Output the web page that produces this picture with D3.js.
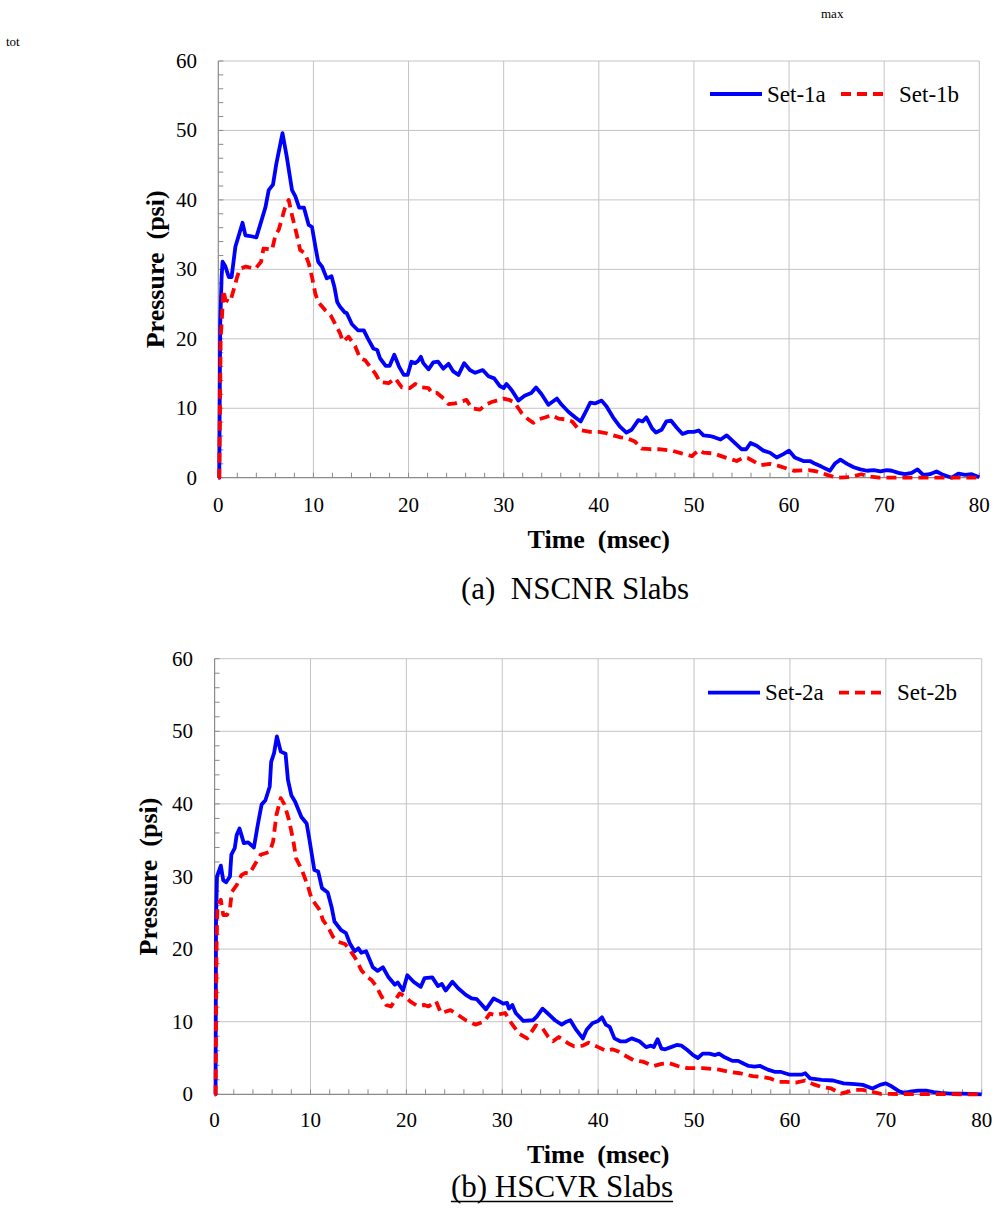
<!DOCTYPE html>
<html>
<head>
<meta charset="utf-8">
<script src="https://cdn.jsdelivr.net/npm/d3@7"></script>
<style>
  body { margin: 0; background: #fff; }
  svg { display: block; }
  text { font-family: "Liberation Serif", "Times New Roman", serif; fill: #000; white-space: pre; }
</style>
</head>
<body>
<svg id="fig" width="995" height="1208"></svg>
<script>
// Axis tick values (msec, psi)
const timeTicks = [0, 10, 20, 30, 40, 50, 60, 70, 80];
const pressureTicks = [0, 10, 20, 30, 40, 50, 60];
const timeMinor = d3.range(0, 81, 2);
const pressureMinor = d3.range(0, 61, 2);

// Reflected pressure histories, [time (msec), pressure (psi)]
const set1a = [[0,0],[0.1,0],[0.2,22],[0.35,29],[0.45,31.1],[0.75,30.4],[1.1,28.9],[1.4,28.9],[1.8,33.3],[2.0,34.2],[2.55,36.7],[2.85,34.9],[3.35,34.8],[4.0,34.6],[4.4,36.4],[4.95,38.9],[5.3,41.4],[5.75,42.2],[6.1,45.2],[6.75,49.6],[7.2,46.2],[7.75,41.4],[8.1,40.5],[8.5,38.9],[9.0,38.9],[9.5,36.4],[9.85,36.1],[10.2,33.3],[10.5,31.1],[10.9,30.4],[11.4,28.7],[11.9,29.0],[12.2,27.5],[12.5,25.3],[12.8,24.6],[13.3,23.8],[13.5,23.7],[14.05,22.1],[14.7,21.2],[15.3,21.2],[15.7,20.1],[16.3,18.6],[16.7,18.4],[17.0,17.2],[17.6,16.1],[18.0,16.1],[18.5,17.7],[19.0,16.0],[19.5,14.8],[19.9,14.8],[20.3,16.7],[20.7,16.5],[21.0,16.8],[21.3,17.4],[21.55,16.5],[22.1,15.6],[22.6,16.6],[23.1,16.7],[23.65,15.7],[24.2,16.4],[24.7,15.3],[25.25,14.8],[25.85,16.5],[26.45,15.5],[27.0,15.1],[27.8,15.5],[28.4,14.6],[29.0,14.3],[29.6,13.2],[30.0,12.9],[30.3,13.5],[30.85,12.6],[31.55,11.1],[32.2,11.8],[32.9,12.2],[33.4,13.0],[33.95,12.1],[34.7,10.5],[35.6,11.4],[36.1,10.5],[36.8,9.5],[37.5,8.7],[38.1,8.1],[38.7,9.7],[39.1,10.8],[39.6,10.7],[40.3,11.1],[40.8,10.3],[41.5,8.7],[42.2,7.4],[42.9,6.5],[43.45,6.9],[44.15,8.3],[44.6,8.1],[45.0,8.7],[45.6,7.1],[46.0,6.5],[46.6,6.9],[47.1,8.1],[47.6,8.2],[48.2,7.2],[48.8,6.3],[49.4,6.6],[50.0,6.6],[50.5,6.8],[51.0,6.1],[51.7,6.0],[52.2,5.8],[52.8,5.5],[53.45,6.1],[54.15,5.2],[55.0,4.1],[55.5,4.1],[55.95,5.0],[56.6,4.6],[57.3,3.9],[58.0,3.6],[58.7,2.9],[59.4,3.4],[60.0,3.9],[60.6,2.9],[61.5,2.4],[62.2,2.4],[62.75,2.0],[63.4,1.6],[64.3,1.0],[64.8,2.0],[65.4,2.6],[66.1,2.0],[66.8,1.5],[67.5,1.2],[68.2,1.0],[68.9,1.1],[69.6,0.9],[70.3,1.1],[70.8,1.0],[71.5,0.7],[72.2,0.5],[72.9,0.7],[73.5,1.2],[74.1,0.4],[74.8,0.5],[75.5,0.9],[76.2,0.4],[77.1,0.0],[77.8,0.6],[78.5,0.4],[79.2,0.5],[80,0.05]];

const set1b = [[0,0],[0.1,0],[0.25,20],[0.55,27.0],[0.75,25.6],[1.25,25.3],[1.6,27.0],[2.0,29.0],[2.3,30.1],[2.9,30.4],[3.9,30.1],[4.5,31.1],[4.75,33.0],[5.3,32.9],[5.65,32.8],[6.0,34.9],[6.35,35.7],[7.0,38.8],[7.4,40.0],[7.75,37.8],[8.3,34.7],[8.6,32.8],[9.1,32.3],[9.5,30.9],[9.85,28.9],[10.2,26.5],[10.5,25.3],[11.25,24.1],[11.8,23.4],[12.8,20.8],[13.1,19.6],[13.7,20.3],[14.4,18.9],[14.9,17.2],[15.45,16.9],[16.5,15.0],[17.0,13.8],[17.9,13.6],[18.6,14.3],[19.3,13.0],[20.15,12.9],[20.7,13.5],[21.4,13.0],[22.1,12.9],[22.45,12.2],[23.0,12.2],[23.85,11.2],[24.2,10.6],[24.9,10.7],[25.6,11.0],[26.1,11.2],[26.65,10.0],[27.5,9.8],[28.2,10.6],[28.75,10.9],[29.25,11.1],[29.95,11.4],[30.6,11.2],[31.15,10.8],[31.9,9.3],[32.5,8.5],[33.1,7.9],[33.65,8.4],[34.4,8.7],[35.05,9.0],[35.75,8.5],[36.5,8.4],[37.2,8.1],[37.9,6.9],[39.1,6.6],[40.0,6.6],[40.8,6.4],[41.5,6.1],[42.3,5.8],[42.95,5.7],[43.8,5.2],[44.5,4.2],[45.4,4.1],[46.3,4.1],[47.7,3.9],[48.7,3.5],[49.8,3.1],[50.1,3.5],[50.6,4.0],[51.0,3.6],[52.05,3.5],[53.1,3.0],[54.5,2.4],[55.2,2.9],[55.7,2.8],[57.0,1.8],[58.0,2.0],[58.9,1.7],[59.8,1.3],[60.5,1.0],[62.05,1.1],[62.9,0.9],[64.0,0.4],[65.0,0.0],[66.5,0.1],[67.6,0.5],[68.4,0.2],[69.5,0.0],[80,0]];

const set2a = [[0,0],[0.1,0],[0.15,24],[0.25,30.0],[0.65,31.5],[0.9,29.5],[1.2,29.2],[1.6,30.0],[1.75,33.0],[2.1,33.9],[2.3,35.7],[2.6,36.6],[3.05,34.6],[3.5,34.7],[4.1,34.0],[4.5,37.1],[4.9,39.9],[5.3,40.5],[5.75,42.4],[5.9,45.8],[6.2,47.0],[6.5,49.3],[6.9,47.2],[7.4,46.9],[7.65,43.3],[8.0,41.2],[8.4,40.3],[9.05,38.2],[9.6,37.3],[9.9,35.0],[10.4,30.9],[10.8,30.7],[11.2,28.4],[11.8,27.8],[12.2,25.8],[12.5,23.8],[13.2,22.6],[13.7,22.2],[14.1,20.8],[14.6,19.7],[15.0,20.1],[15.3,19.5],[15.8,19.7],[16.5,17.5],[17.0,17.0],[17.55,17.5],[18.1,16.2],[18.8,15.1],[19.1,15.4],[19.65,14.3],[20.1,16.4],[20.75,15.5],[21.5,14.8],[21.9,16.0],[22.7,16.1],[23.3,14.9],[23.7,15.2],[24.1,14.3],[24.8,15.5],[25.4,14.6],[26.2,13.7],[26.8,13.2],[27.35,13.1],[28.3,11.7],[29.1,13.2],[29.7,12.8],[30.1,12.5],[30.5,12.6],[30.7,11.8],[31.05,12.3],[31.4,11.2],[32.2,10.1],[33.2,10.2],[33.6,10.7],[34.2,11.8],[34.7,11.2],[35.5,10.2],[36.2,9.6],[36.7,10.0],[37.1,10.2],[37.7,8.9],[38.4,7.7],[38.8,8.9],[39.4,9.8],[40.0,10.1],[40.4,10.6],[40.8,9.6],[41.2,9.3],[41.7,7.7],[42.3,7.3],[42.9,7.3],[43.5,7.7],[44.3,7.3],[45.0,6.5],[45.5,6.7],[45.8,6.5],[46.2,7.6],[46.6,6.3],[47.0,6.2],[47.6,6.5],[48.2,6.8],[48.7,6.7],[49.3,6.1],[49.9,5.4],[50.4,5.0],[50.9,5.6],[51.6,5.6],[52.2,5.4],[52.6,5.6],[53.2,5.1],[54.0,4.6],[54.6,4.6],[55.2,4.2],[55.7,3.9],[56.3,3.8],[56.9,3.9],[57.7,3.4],[58.4,3.1],[59.0,3.1],[60.0,2.7],[60.6,2.7],[61.2,2.7],[61.6,2.9],[62.1,2.2],[63.3,2.0],[64.5,1.9],[65.6,1.5],[66.8,1.4],[67.6,1.3],[68.6,0.8],[69.4,1.3],[70.0,1.5],[70.6,1.1],[71.4,0.4],[71.9,0.2],[72.7,0.4],[73.4,0.5],[74.2,0.5],[75.0,0.3],[75.7,0.2],[76.7,0.1],[77.7,0.1],[78.9,0.05],[80,0]];

const set2b = [[0,0],[0.1,0],[0.2,20],[0.3,26.1],[0.65,26.8],[0.9,24.7],[1.3,24.7],[1.6,25.6],[1.8,27.9],[2.3,28.8],[2.8,30.2],[3.2,30.5],[3.65,30.4],[4.35,32.0],[4.8,33.0],[5.75,33.4],[6.1,34.8],[6.45,38.5],[6.9,40.8],[7.3,39.9],[7.75,37.8],[8.2,35.0],[8.5,32.5],[9.1,30.9],[9.75,28.6],[10.1,27.0],[10.35,26.5],[10.95,25.4],[11.3,24.0],[11.8,23.1],[12.35,21.7],[12.9,21.0],[13.6,20.7],[14.1,19.9],[14.8,18.5],[15.3,17.1],[15.9,16.2],[16.4,15.7],[16.9,14.8],[17.4,13.5],[17.9,12.3],[18.4,12.1],[19.3,13.9],[19.8,13.5],[20.4,12.8],[21.1,12.2],[21.9,12.3],[22.3,12.1],[23.1,12.8],[23.6,11.2],[24.6,11.6],[25.3,11.0],[26.2,10.2],[27.2,9.6],[28.1,10.0],[28.7,11.1],[29.3,10.9],[30.3,11.2],[31.0,9.7],[31.8,8.3],[32.6,7.7],[33.5,9.5],[34.2,9.1],[34.8,7.9],[35.3,7.3],[35.9,7.9],[36.9,7.0],[37.5,6.6],[38.4,6.7],[39.0,7.1],[40.0,6.5],[40.8,6.0],[41.5,6.2],[42.1,5.9],[42.7,5.4],[43.7,4.7],[44.65,4.5],[45.8,3.9],[46.6,4.2],[47.4,4.3],[48.3,3.9],[49.3,3.6],[50.9,3.6],[52.6,3.4],[53.6,3.1],[54.8,2.9],[56.1,2.5],[57.0,2.4],[57.9,2.2],[58.8,1.7],[59.6,1.7],[60.6,1.6],[61.6,1.9],[62.4,1.4],[63.3,1.0],[64.3,0.8],[65.3,0.1],[66.2,0.4],[66.8,0.6],[67.6,0.6],[68.4,0.4],[69.5,0.05],[80,0]];

const seriesNamesA = ["Set-1a", "Set-1b"];
const seriesNamesB = ["Set-2a", "Set-2b"];
const captions = ["(a)  NSCNR Slabs", "(b) HSCVR Slabs"];

const svg = d3.select("#fig");

// stray labels at the top of the page
svg.append("text").attr("x", 821).attr("y", 18).attr("font-size", 13).text("max");
svg.append("text").attr("x", 6).attr("y", 46).attr("font-size", 13).text("tot");

const panels = [
  { left: 218.3, right: 979.3, top: 61, bottom: 477.7,
    series: [set1a, set1b], names: seriesNamesA,
    yLabelRight: 197, xLabelBase: 512, xTitleBase: 548, yTitleX: 155,
    legendY: 94, legendX: 710,
    caption: captions[0], captionX: 575, captionBase: 599, underline: false },
  { left: 214.6, right: 981.7, top: 658.7, bottom: 1094.3,
    series: [set2a, set2b], names: seriesNamesB,
    yLabelRight: 193, xLabelBase: 1127, xTitleBase: 1163, yTitleX: 148,
    legendY: 692.7, legendX: 708,
    caption: captions[1], captionX: 562, captionBase: 1197, underline: true }
];

const gridColor = "#c4c4c4";
const axisColor = "#8a8a8a";
const styles = [
  { color: "#0000ff", dash: null },
  { color: "#ff0000", dash: "10,6" }
];

panels.forEach(p => {
  const x = d3.scaleLinear().domain([0, 80]).range([p.left, p.right]);
  const y = d3.scaleLinear().domain([0, 60]).range([p.bottom, p.top]);
  const g = svg.append("g");

  // gridlines
  g.selectAll(".vg").data(timeTicks.filter(d => d > 0)).join("line")
    .attr("x1", d => x(d)).attr("x2", d => x(d))
    .attr("y1", p.top).attr("y2", p.bottom)
    .attr("stroke", gridColor).attr("stroke-width", 1);
  g.selectAll(".hg").data(pressureTicks.filter(d => d > 0)).join("line")
    .attr("x1", p.left).attr("x2", p.right)
    .attr("y1", d => y(d)).attr("y2", d => y(d))
    .attr("stroke", gridColor).attr("stroke-width", 1);

  // minor ticks pointing into the plot
  g.selectAll(".xm").data(timeMinor).join("line")
    .attr("x1", d => x(d)).attr("x2", d => x(d))
    .attr("y1", p.bottom).attr("y2", p.bottom - 5)
    .attr("stroke", axisColor).attr("stroke-width", 1);
  g.selectAll(".ym").data(pressureMinor).join("line")
    .attr("x1", p.left).attr("x2", p.left + 5)
    .attr("y1", d => y(d)).attr("y2", d => y(d))
    .attr("stroke", axisColor).attr("stroke-width", 1);

  // axis lines
  g.append("line").attr("x1", p.left).attr("x2", p.right)
    .attr("y1", p.bottom).attr("y2", p.bottom)
    .attr("stroke", axisColor).attr("stroke-width", 1.2);
  g.append("line").attr("x1", p.left).attr("x2", p.left)
    .attr("y1", p.top).attr("y2", p.bottom)
    .attr("stroke", axisColor).attr("stroke-width", 1.2);

  // tick labels
  g.selectAll(".xl").data(timeTicks).join("text")
    .attr("x", d => x(d)).attr("y", p.xLabelBase)
    .attr("text-anchor", "middle").attr("font-size", 21)
    .text(d => d);
  g.selectAll(".yl").data(pressureTicks).join("text")
    .attr("x", p.yLabelRight).attr("y", d => y(d) + 7)
    .attr("text-anchor", "end").attr("font-size", 21)
    .text(d => d);

  // axis titles
  g.append("text").attr("x", (p.left + p.right) / 2).attr("y", p.xTitleBase)
    .attr("text-anchor", "middle").attr("font-size", 26).attr("font-weight", "bold")
    .text("Time  (msec)");
  g.append("text")
    .attr("transform", `translate(${p.yTitleX},${(p.top + p.bottom) / 2}) rotate(-90)`)
    .attr("dy", "0.35em")
    .attr("text-anchor", "middle").attr("font-size", 26).attr("font-weight", "bold")
    .text("Pressure  (psi)");

  // pressure traces
  const line = d3.line().x(d => x(d[0])).y(d => y(d[1]));
  p.series.forEach((s, i) => {
    g.append("path").datum(s)
      .attr("d", line)
      .attr("fill", "none")
      .attr("stroke", styles[i].color)
      .attr("stroke-width", 3.8)
      .attr("stroke-linejoin", "round")
      .attr("stroke-dasharray", styles[i].dash);
  });

  // legend
  const lg = g.append("g");
  lg.append("line").attr("x1", p.legendX).attr("x2", p.legendX + 52)
    .attr("y1", p.legendY).attr("y2", p.legendY)
    .attr("stroke", styles[0].color).attr("stroke-width", 3.8);
  lg.append("text").attr("x", p.legendX + 57).attr("y", p.legendY + 7.5)
    .attr("font-size", 23).text(p.names[0]);
  lg.append("line").attr("x1", p.legendX + 131).attr("x2", p.legendX + 173)
    .attr("y1", p.legendY).attr("y2", p.legendY)
    .attr("stroke", styles[1].color).attr("stroke-width", 3.8)
    .attr("stroke-dasharray", styles[1].dash);
  lg.append("text").attr("x", p.legendX + 189).attr("y", p.legendY + 7.5)
    .attr("font-size", 23).text(p.names[1]);

  // caption
  const cap = g.append("text").attr("x", p.captionX).attr("y", p.captionBase)
    .attr("text-anchor", "middle").attr("font-size", 31).text(p.caption);
  if (p.underline) {
    const w = cap.node().getComputedTextLength();
    g.append("line").attr("x1", p.captionX - w / 2).attr("x2", p.captionX + w / 2)
      .attr("y1", p.captionBase + 4.5).attr("y2", p.captionBase + 4.5)
      .attr("stroke", "#000").attr("stroke-width", 1.5);
  }
});
</script>
</body>
</html>
